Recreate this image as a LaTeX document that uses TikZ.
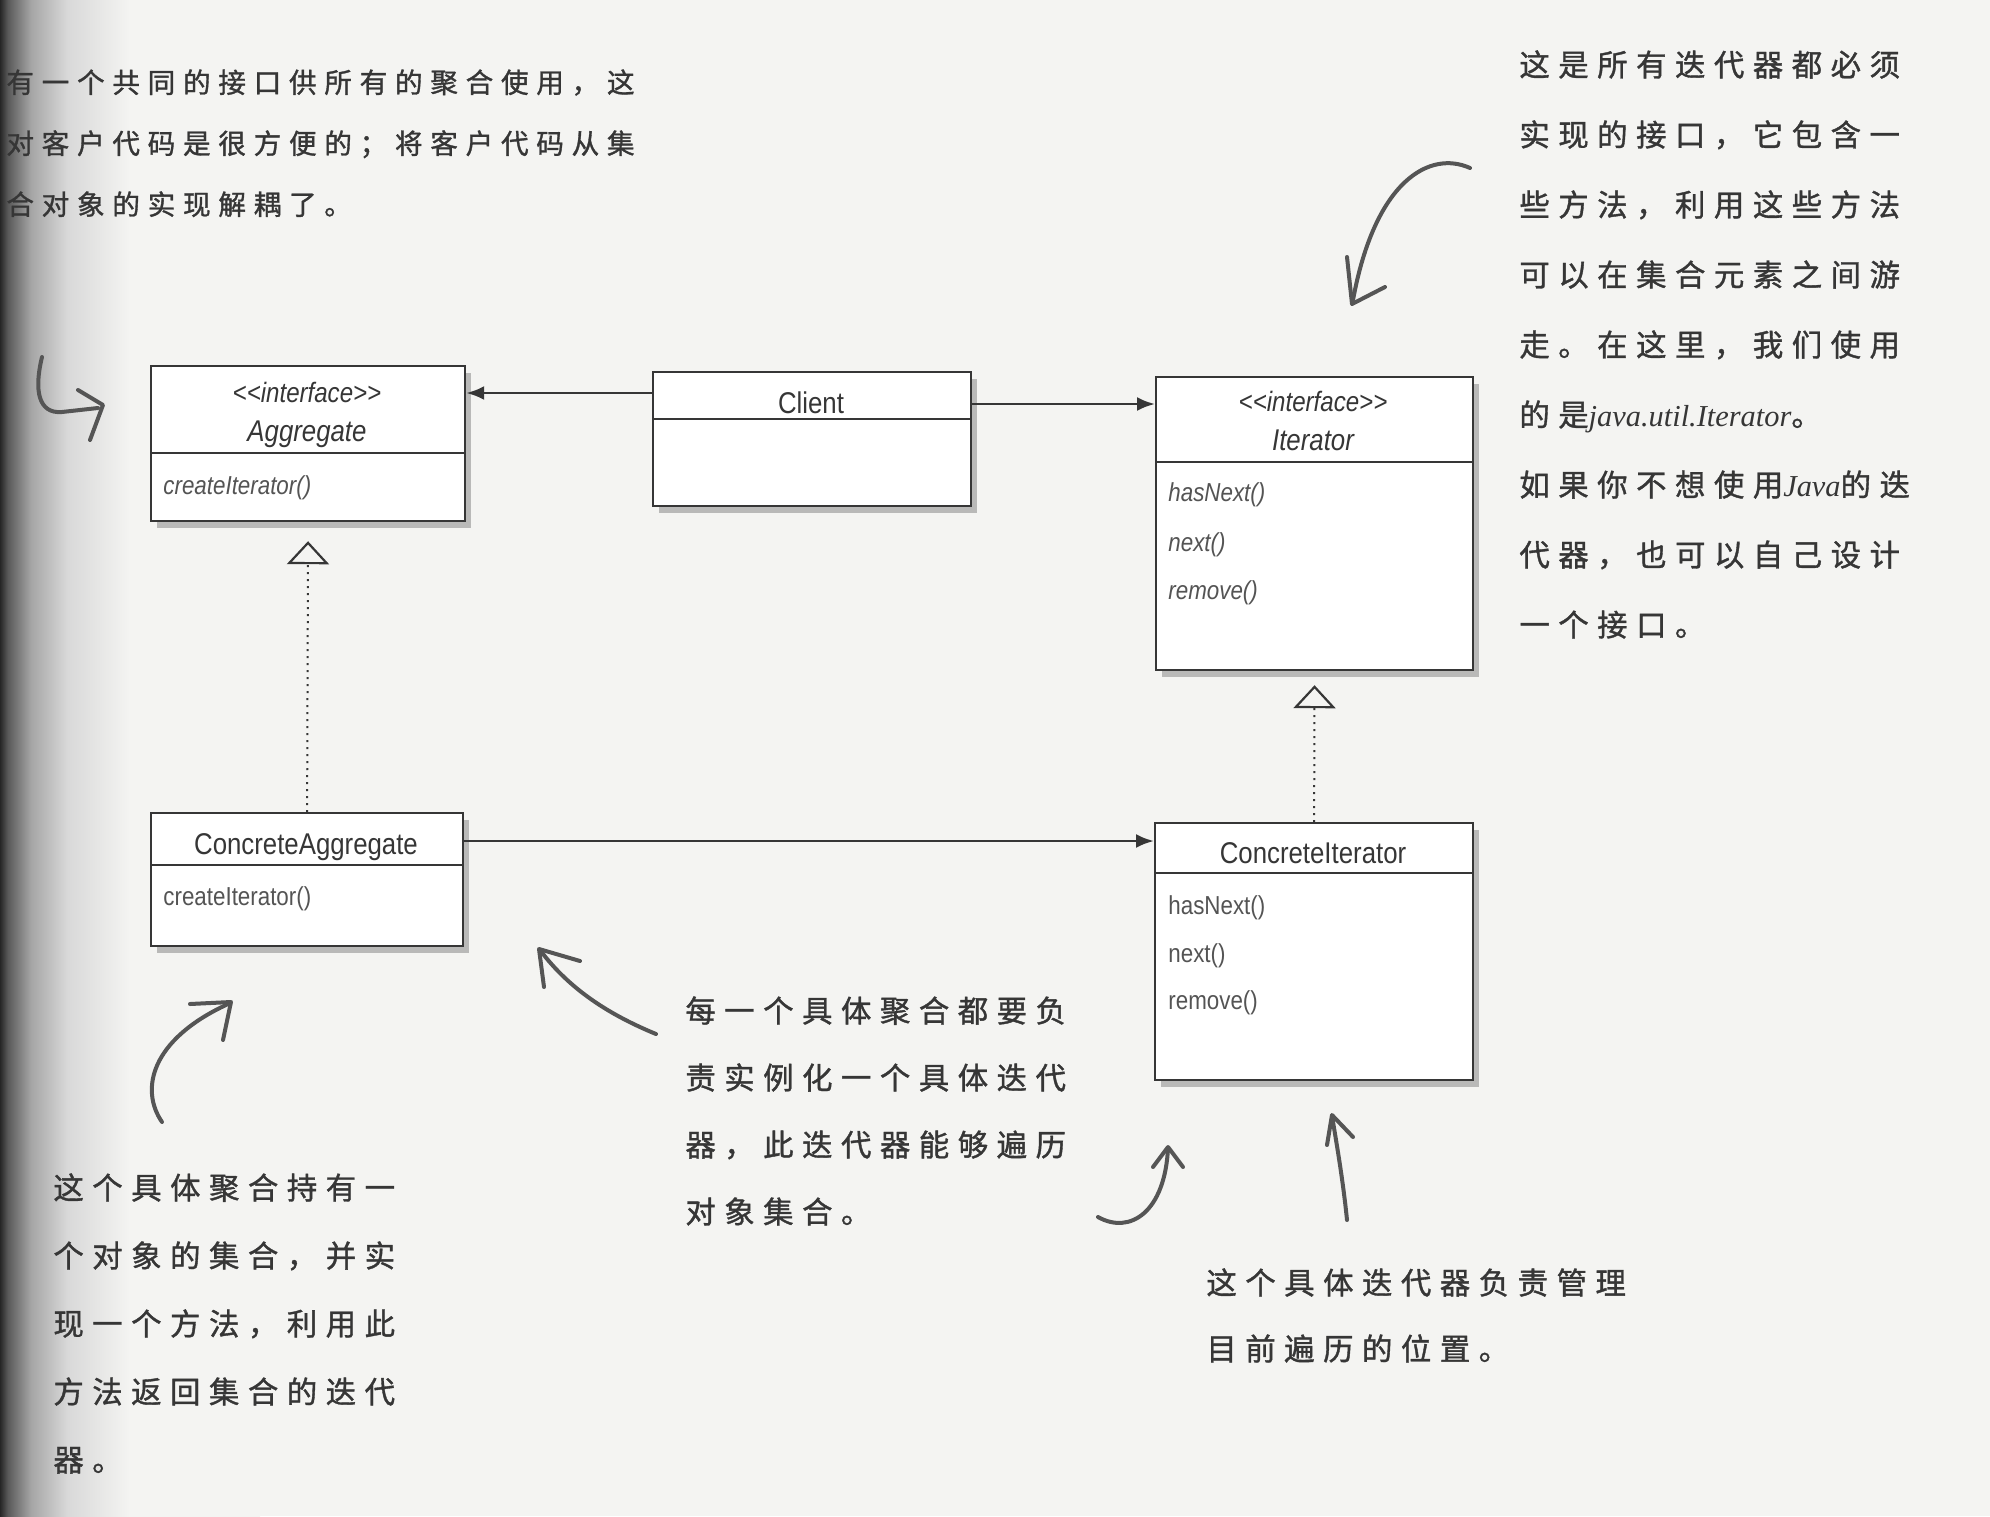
\documentclass[tikz,border=0pt]{standalone}
\usepackage{fontspec}
\setmainfont{Liberation Sans}
\newfontfamily\umlfont[FakeStretch=0.86]{Liberation Sans}
\newfontfamily\hand[LetterSpace=28,FakeBold=1.2]{Noto Sans CJK SC}
\newfontfamily\handlatin{Liberation Serif}
\usetikzlibrary{arrows.meta,shadows,calc}

\definecolor{paper}{HTML}{F4F4F2}
\definecolor{ink}{HTML}{363636}
\definecolor{pencilc}{HTML}{555555}

% darkened page edge near the binding
\pgfdeclarehorizontalshading{spine}{100bp}{%
  color(0bp)=(black!85); color(25bp)=(black!85); color(26.5bp)=(black!65);
  color(31bp)=(black!35); color(38bp)=(black!15); color(50bp)=(paper);
  color(100bp)=(paper)}

\tikzset{
  umlbox/.style={rectangle, draw=ink, line width=1.1pt, fill=white, inner sep=0pt,
    anchor=north west,
    drop shadow={shadow xshift=3pt, shadow yshift=-3.5pt, opacity=0.35, fill=black!70}},
  divider/.style={draw=ink, line width=1.1pt},
  umlname/.style={font=\umlfont\fontsize{15}{18}\selectfont, text=ink, inner sep=0pt, anchor=base},
  umlstereo/.style={font=\umlfont\itshape\fontsize{14}{17}\selectfont, text=ink, inner sep=0pt, anchor=base},
  umlop/.style={font=\umlfont\fontsize{13}{16}\selectfont, text=ink!85, inner sep=0pt, anchor=base west},
  assoc/.style={draw=ink, line width=1.4pt, -{Latex[length=9pt,width=7pt]}},
  realize/.style={draw=ink, line width=1pt, dash pattern=on 1pt off 2.5pt,
    -{Triangle[open,length=11.5pt,width=21pt,line width=1.1pt]}},
  note/.style={text=ink, align=left, inner sep=0pt, anchor=north west},
  pencil/.style={draw=pencilc, line width=2pt, line cap=round, line join=round},
}

\begin{document}
\begin{tikzpicture}[x=0.5pt,y=-0.5pt]
\useasboundingbox (0,0) rectangle (1990,1516);
\clip (0,0) rectangle (1990,1516);
\fill[paper] (0,0) rectangle (1990,1516);
\shade[shading=spine] (0,0) rectangle (260,1516);

% ---------- classes ----------
\node[umlbox, minimum width=157pt, minimum height=77.5pt] (agg) at (150,365) {};
\draw[divider] ($(agg.north west)+(0,88)$) -- ($(agg.north east)+(0,88)$);
\node[umlstereo] (aggst) at (307,402) {<{}<interface>{}>};
\node[umlname, font=\umlfont\itshape\fontsize{15}{18}\selectfont] (aggnm) at (307,441) {Aggregate};
\node[umlop, font=\umlfont\itshape\fontsize{13}{16}\selectfont] (aggop) at (163,494) {createIterator()};

\node[umlbox, minimum width=159pt, minimum height=67pt] (client) at (652,371) {};
\draw[divider] ($(client.north west)+(0,48)$) -- ($(client.north east)+(0,48)$);
\node[umlname] (clientnm) at (811,413) {Client};

\node[umlbox, minimum width=158.5pt, minimum height=146.5pt] (iter) at (1155,376) {};
\draw[divider] ($(iter.north west)+(0,86)$) -- ($(iter.north east)+(0,86)$);
\node[umlstereo] (iterst) at (1313,411) {<{}<interface>{}>};
\node[umlname, font=\umlfont\itshape\fontsize{15}{18}\selectfont] (iternm) at (1313,450) {Iterator};
\node[umlop, font=\umlfont\itshape\fontsize{13}{16}\selectfont] (iterop1) at (1168,501) {hasNext()};
\node[umlop, font=\umlfont\itshape\fontsize{13}{16}\selectfont] (iterop2) at (1168,551) {next()};
\node[umlop, font=\umlfont\itshape\fontsize{13}{16}\selectfont] (iterop3) at (1168,599) {remove()};

\node[umlbox, minimum width=156pt, minimum height=66.5pt] (cagg) at (150,812) {};
\draw[divider] ($(cagg.north west)+(0,53)$) -- ($(cagg.north east)+(0,53)$);
\node[umlname] (caggnm) at (306,854) {ConcreteAggregate};
\node[umlop] (caggop) at (163,905) {createIterator()};

\node[umlbox, minimum width=159pt, minimum height=128.5pt] (citer) at (1154,822) {};
\draw[divider] ($(citer.north west)+(0,51)$) -- ($(citer.north east)+(0,51)$);
\node[umlname] (citernm) at (1313,863) {ConcreteIterator};
\node[umlop] (citerop1) at (1168,914) {hasNext()};
\node[umlop] (citerop2) at (1168,962) {next()};
\node[umlop] (citerop3) at (1168,1009) {remove()};

% ---------- relations ----------
\coordinate (ca) at ($(client.north west)+(0,22)$);
\draw[assoc] (ca) -- (ca -| agg.east);
\coordinate (ci) at ($(client.north east)+(0,33)$);
\draw[assoc] (ci) -- (ci -| iter.west);
\coordinate (cc) at ($(cagg.north east)+(0,29)$);
\draw[assoc] (cc) -- (cc -| citer.west);
\draw[realize, shorten >=9.5pt] (cagg.north) -- (agg.south);
\draw[realize, shorten >=7pt] (citer.north) -- (iter.south);

% ---------- handwritten notes ----------
\node[note, font=\hand\fontsize{13.8}{30.5}\selectfont] (notetl) at (6,69)
  {有一个共同的接口供所有的聚合使用，这\\对客户代码是很方便的；将客户代码从集\\合对象的实现解耦了。};

\node[note, font=\hand\fontsize{15.2}{35}\selectfont] (notetr) at (1519,50)
  {这是所有迭代器都必须\\实现的接口，它包含一\\些方法，利用这些方法\\可以在集合元素之间游\\走。在这里，我们使用\\的是{\handlatin\itshape java.util.Iterator}。\\如果你不想使用{\handlatin\itshape Java}的迭\\代器，也可以自己设计\\一个接口。};

\node[note, font=\hand\fontsize{15.2}{34}\selectfont] (notebl) at (53,1173)
  {这个具体聚合持有一\\个对象的集合，并实\\现一个方法，利用此\\方法返回集合的迭代\\器。};

\node[note, font=\hand\fontsize{15.2}{33.5}\selectfont] (notemid) at (685,996)
  {每一个具体聚合都要负\\责实例化一个具体迭代\\器，此迭代器能够遍历\\对象集合。};

\node[note, font=\hand\fontsize{15.2}{33}\selectfont] (notebr) at (1206,1268)
  {这个具体迭代器负责管理\\目前遍历的位置。};

% ---------- pencil arrows ----------
% towards Aggregate
\draw[pencil] (42,357) .. controls (34,390) and (38,414) .. (62,412) -- (98,408);
\draw[pencil] (78,390) -- (103,405) -- (90,440);
% towards Iterator
\draw[pencil] (1470,168) .. controls (1430,150) and (1375,180) .. (1353,300);
\draw[pencil] (1347,257) -- (1352,304) -- (1385,287);
% towards ConcreteAggregate (lower left)
\draw[pencil] (162,1122) .. controls (140,1090) and (150,1040) .. (228,1004);
\draw[pencil] (190,1004) -- (231,1002) -- (223,1040);
% towards ConcreteAggregate (middle)
\draw[pencil] (656,1034) .. controls (610,1015) and (570,990) .. (540,950);
\draw[pencil] (544,987) -- (539,949) -- (580,961);
% towards ConcreteIterator
\draw[pencil] (1098,1217) .. controls (1130,1235) and (1165,1212) .. (1168,1148);
\draw[pencil] (1153,1167) -- (1168,1147) -- (1183,1167);
\draw[pencil] (1347,1220) .. controls (1343,1180) and (1336,1140) .. (1332,1116);
\draw[pencil] (1327,1145) -- (1332,1115) -- (1353,1137);
\end{tikzpicture}
\end{document}
